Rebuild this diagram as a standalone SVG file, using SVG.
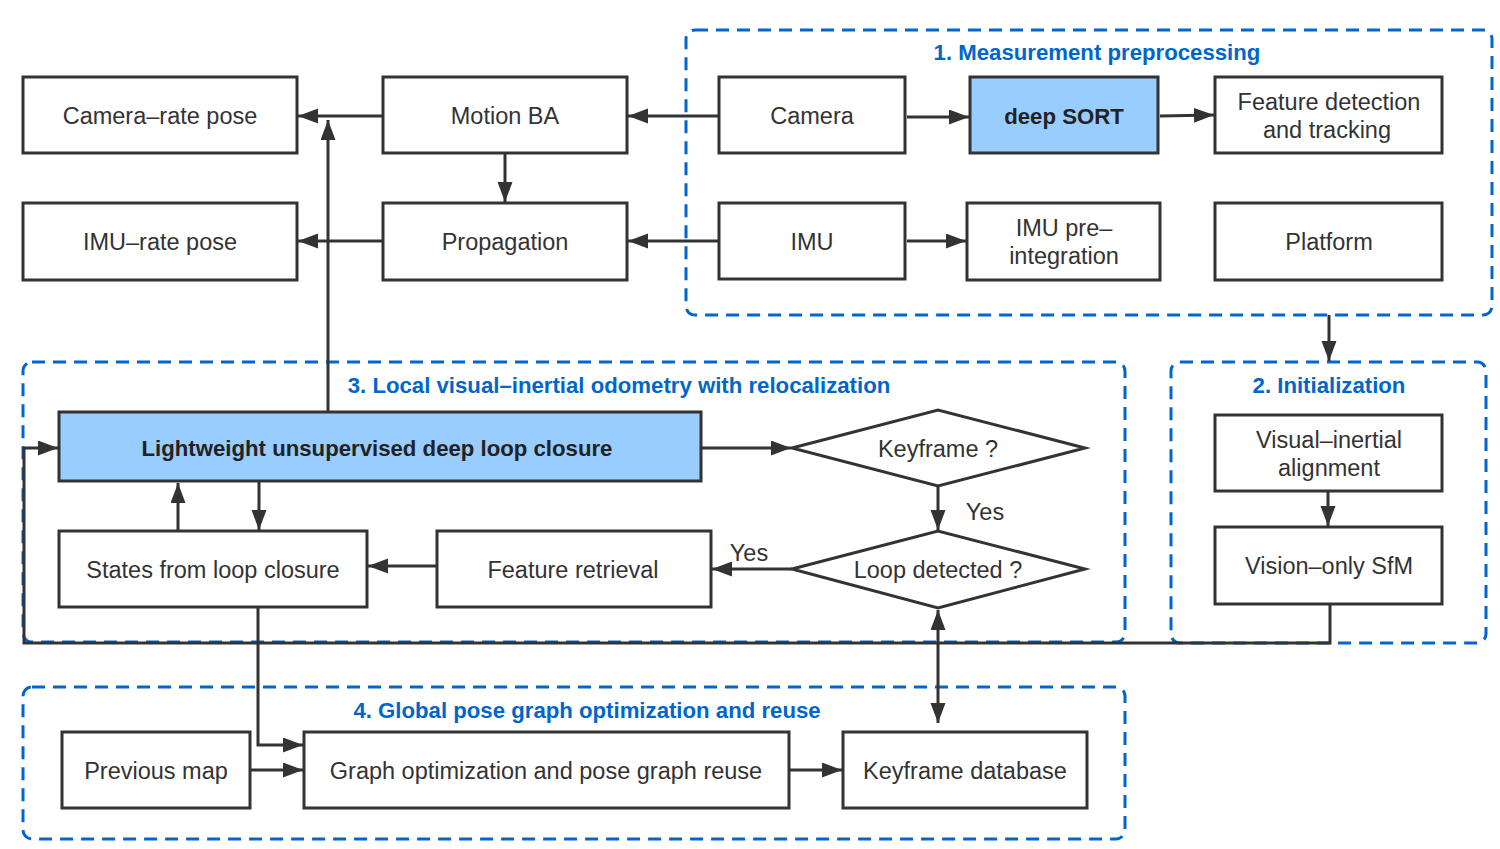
<svg xmlns="http://www.w3.org/2000/svg" width="1500" height="849" viewBox="0 0 1500 849">
<defs>
<style>
.box{fill:#fff;stroke:#333;stroke-width:3}
.hl{fill:#99ccff;stroke:#333;stroke-width:3}
.grp{fill:none;stroke:#0066cc;stroke-width:3;stroke-dasharray:13 8}
.t{font-family:"Liberation Sans",Arial,sans-serif;font-size:23.5px;fill:#333;text-anchor:middle}
.b{font-family:"Liberation Sans",Arial,sans-serif;font-size:22.2px;font-weight:bold;fill:#222;text-anchor:middle}
.gt{font-family:"Liberation Sans",Arial,sans-serif;font-size:22.2px;font-weight:bold;fill:#0066cc;text-anchor:middle}
.c{fill:none;stroke:#333;stroke-width:3}
.a{marker-end:url(#ah)}
</style>
<marker id="ah" markerUnits="userSpaceOnUse" markerWidth="22" markerHeight="16" refX="20" refY="7.5" orient="auto-start-reverse">
<path d="M0,0 L20,7.5 L0,15 z" fill="#333"/>
</marker>
</defs>
<rect width="1500" height="849" fill="#fff"/>

<g id="group1"><rect class="grp" x="686" y="30" width="806" height="285" rx="9"/><text class="gt" x="1097" y="60">1. Measurement preprocessing</text></g>
<g id="group2"><rect class="grp" x="1171" y="362" width="315" height="281" rx="9"/><text class="gt" x="1329" y="393">2. Initialization</text></g>
<g id="group3"><rect class="grp" x="23" y="362" width="1102" height="280" rx="9"/><text class="gt" x="619" y="393">3. Local visual–inertial odometry with relocalization</text></g>
<g id="group4"><rect class="grp" x="23" y="687" width="1102" height="152" rx="9"/><text class="gt" x="587" y="718">4. Global pose graph optimization and reuse</text></g>

<g id="connectors">
<line class="c a" x1="383" y1="116" x2="298" y2="116"/>
<line class="c a" x1="719" y1="116" x2="628" y2="116"/>
<line class="c a" x1="907" y1="117" x2="969" y2="117"/>
<line class="c a" x1="1160" y1="116" x2="1214" y2="115"/>
<line class="c a" x1="505" y1="153" x2="505" y2="202"/>
<line class="c a" x1="383" y1="241" x2="298" y2="241"/>
<line class="c a" x1="719" y1="241" x2="628" y2="241"/>
<line class="c a" x1="907" y1="241" x2="966" y2="241"/>
<line class="c a" x1="328" y1="412" x2="328" y2="120"/>
<line class="c a" x1="701" y1="448" x2="791" y2="448"/>
<line class="c a" x1="938" y1="486" x2="938" y2="530"/>
<line class="c a" x1="792" y1="569" x2="712" y2="569"/>
<line class="c a" x1="437" y1="566" x2="368" y2="566"/>
<line class="c a" x1="178" y1="531" x2="178" y2="483"/>
<line class="c a" x1="259" y1="481" x2="259" y2="530"/>
<polyline class="c a" points="258,607 258,745 303,745"/>
<line class="c a" x1="250" y1="770" x2="303" y2="770"/>
<line class="c a" x1="789" y1="770" x2="842" y2="770"/>
<line class="c a" x1="938" y1="610" x2="938" y2="723" style="marker-start:url(#ah)"/>
<polyline class="c a" points="1330,604 1330,643 24,643 24,448 58,448"/>
<line class="c a" x1="1329" y1="315" x2="1329" y2="361"/>
<line class="c a" x1="1328" y1="491" x2="1328" y2="526"/>
</g>

<g id="camera_rate_pose"><rect class="box" x="23" y="77" width="274" height="76"/><text class="t" x="160" y="124">Camera–rate pose</text></g>
<g id="motion_ba"><rect class="box" x="383" y="77" width="244" height="76"/><text class="t" x="505" y="124">Motion BA</text></g>
<g id="imu_rate_pose"><rect class="box" x="23" y="203" width="274" height="77"/><text class="t" x="160" y="250">IMU–rate pose</text></g>
<g id="propagation"><rect class="box" x="383" y="203" width="244" height="77"/><text class="t" x="505" y="250">Propagation</text></g>
<g id="camera"><rect class="box" x="719" y="77" width="186" height="76"/><text class="t" x="812" y="124">Camera</text></g>
<g id="deep_sort"><rect class="hl" x="970" y="77" width="188" height="76"/><text class="b" x="1064" y="124">deep SORT</text></g>
<g id="feature_detection"><rect class="box" x="1215" y="77" width="227" height="76"/><text class="t" x="1329" y="110">Feature detection</text><text class="t" x="1327" y="138">and tracking</text></g>
<g id="imu"><rect class="box" x="719" y="203" width="186" height="76"/><text class="t" x="812" y="250">IMU</text></g>
<g id="imu_preintegration"><rect class="box" x="967" y="203" width="193" height="77"/><text class="t" x="1064" y="236">IMU pre–</text><text class="t" x="1064" y="264">integration</text></g>
<g id="platform"><rect class="box" x="1215" y="203" width="227" height="77"/><text class="t" x="1329" y="250">Platform</text></g>
<g id="visual_inertial_alignment"><rect class="box" x="1215" y="415" width="227" height="76"/><text class="t" x="1329" y="448">Visual–inertial</text><text class="t" x="1329" y="476">alignment</text></g>
<g id="vision_only_sfm"><rect class="box" x="1215" y="527" width="227" height="77"/><text class="t" x="1329" y="574">Vision–only SfM</text></g>
<g id="lightweight"><rect class="hl" x="59" y="412" width="642" height="69"/><text class="b" x="377" y="456">Lightweight unsupervised deep loop closure</text></g>
<g id="keyframe"><polygon class="box" points="792,448 938,410 1085,448 938,486"/><text class="t" x="938" y="457">Keyframe ?</text></g>
<g id="loop_detected"><polygon class="box" points="792,569 938,531 1085,569 938,608"/><text class="t" x="938" y="578">Loop detected ?</text></g>
<g id="states"><rect class="box" x="59" y="531" width="308" height="76"/><text class="t" x="213" y="578">States from loop closure</text></g>
<g id="feature_retrieval"><rect class="box" x="437" y="531" width="274" height="76"/><text class="t" x="573" y="578">Feature retrieval</text></g>
<g id="previous_map"><rect class="box" x="62" y="732" width="188" height="76"/><text class="t" x="156" y="779">Previous map</text></g>
<g id="graph_optimization"><rect class="box" x="304" y="732" width="485" height="76"/><text class="t" x="546" y="779">Graph optimization and pose graph reuse</text></g>
<g id="keyframe_database"><rect class="box" x="843" y="732" width="244" height="76"/><text class="t" x="965" y="779">Keyframe database</text></g>
<g id="labels"><text class="t" x="985" y="520">Yes</text><text class="t" x="749" y="561">Yes</text></g>
</svg>
